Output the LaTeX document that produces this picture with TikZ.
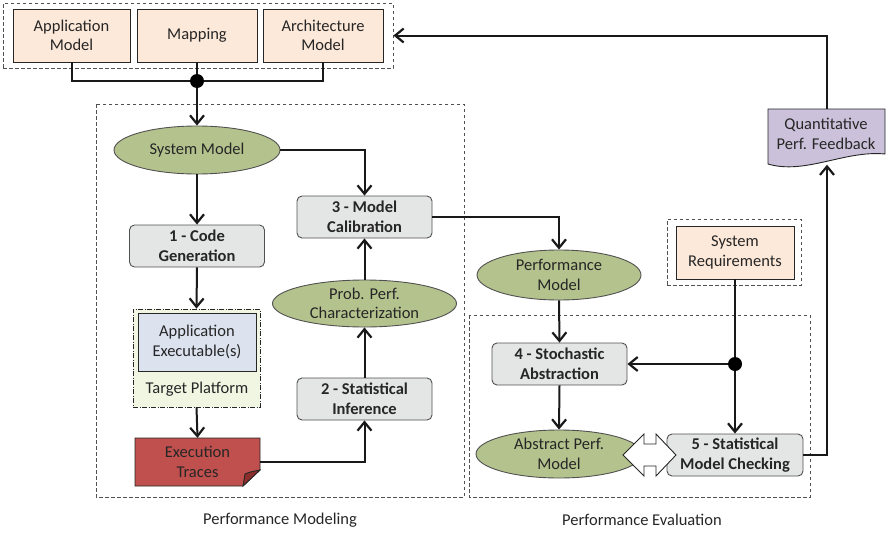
\documentclass[tikz,border=0pt]{standalone}
\usepackage{fontspec}
\setmainfont{Carlito}
\usetikzlibrary{arrows.meta,shapes.geometric,calc}

\definecolor{peach}{HTML}{FDE9D9}
\definecolor{olivefill}{HTML}{B4C38D}
\definecolor{stepgray}{HTML}{E4E5E5}
\definecolor{tracered}{HTML}{C0504D}
\definecolor{folddark}{HTML}{8C2E2C}
\definecolor{feedlav}{HTML}{CCC1DA}
\definecolor{platgreen}{HTML}{F1F6E3}
\definecolor{exeblue}{HTML}{DCE3EF}
\definecolor{inkgray}{HTML}{262626}

\tikzset{
  every node/.style={font=\fontsize{16.5}{19.5}\selectfont, text=inkgray},
  inbox/.style={draw=inkgray, line width=0.9pt, fill=peach, align=center, inner sep=0pt},
  stepbox/.style={draw=inkgray!80, line width=0.9pt, fill=stepgray, rounded corners=5pt,
    align=center, inner sep=0pt, minimum width=135, minimum height=42,
    font=\fontsize{16.5}{19.5}\selectfont\bfseries},
  modelell/.style={ellipse, draw=inkgray!80, line width=0.9pt, fill=olivefill,
    align=center, inner sep=0pt},
  groupbox/.style={draw=inkgray!80, line width=0.9pt, dash pattern=on 3.5pt off 2.5pt,
    inner sep=0pt},
  wire/.style={line width=2pt, draw=black!90},
  flow/.style={wire, -{Straight Barb[length=8.5pt,width=14pt,line width=2.2pt]}},
  joint/.style={circle, fill=black, inner sep=0pt, minimum size=14},
  caption/.style={font=\fontsize{16.5}{19.5}\selectfont}
}

\begin{document}
\begin{tikzpicture}[x=1pt, y=-1pt]
\useasboundingbox (0,0) rectangle (886,533);

% ---- section frames
\draw[groupbox] (96,104) rectangle (464,497);
\draw[groupbox] (469,315) rectangle (810,497);
\node[caption] (modlabel) at (280,520) {Performance Modeling};
\node[caption] (evallabel) at (642,520) {Performance Evaluation};

% ---- input models
\node[groupbox, minimum width=390, minimum height=65] (inputs) at (198,35.5) {};
\node[inbox, minimum width=117, minimum height=53] (app) at (71.5,35.5) {Application\\Model};
\node[inbox, minimum width=120, minimum height=53] (map) at (197,35.5) {Mapping};
\node[inbox, minimum width=120, minimum height=53] (arch) at (323,35.5) {Architecture\\Model};
\node[joint] (join) at (197,81) {};
\draw[wire] (app.south) |- (join);
\draw[wire] (arch.south) |- (join);
\draw[wire] (map.south) -- (join);

% ---- modeling flow
\node[modelell, minimum width=166, minimum height=48] (sysmodel) at (197,150) {System Model};
\draw[flow] (join) -- (sysmodel.north);

\node[stepbox] (codegen) at (197,246) {1 - Code\\Generation};
\draw[flow] (sysmodel.south) -- (codegen.north);

\node[draw=inkgray, line width=0.8pt, dash pattern=on 5pt off 1.5pt on 1pt off 1.5pt,
      fill=platgreen, minimum width=127, minimum height=98, inner sep=0pt] (platform) at (196.5,358) {};
\node[inbox, fill=exeblue, minimum width=118, minimum height=58] (exe) at (197,342) {Application\\Executable(s)};
\node (platlabel) at (197,389) {Target Platform};
\draw[flow] (codegen.south) -- (platform.north);

\node[minimum width=125, minimum height=48, inner sep=0pt, align=center] (traces) at (197.5,462) {};
\fill[tracered, draw=inkgray, line width=0.9pt]
  (135,438) -- (260,438) -- (260,470) -- (243,486) -- (135,486) -- cycle;
\fill[folddark, draw=inkgray, line width=0.9pt]
  (260,470) -- (243,486) -- (245,474) .. controls (250,472) .. (260,470) -- cycle;
\node[align=center] (tracetext) at (197.5,462) {Execution\\Traces};
\draw[flow] (platform.south) -- (traces.north);

\node[stepbox] (stats) at (364.5,399) {2 - Statistical\\Inference};
\draw[flow] (traces.east) -| (stats.south);

\node[modelell, minimum width=184, minimum height=47] (prob) at (364.5,303.5) {Prob. Perf.\\Characterization};
\draw[flow] (stats.north) -- (prob.south);

\node[stepbox] (calib) at (364.5,217) {3 - Model\\Calibration};
\draw[flow] (prob.north) -- (calib.south);
\draw[flow] (sysmodel.east) -| (calib.north);

% ---- evaluation flow
\node[modelell, minimum width=164, minimum height=50] (perfmodel) at (559,275) {Performance\\Model};
\draw[flow] (calib.east) -| (perfmodel.north);

\node[stepbox] (abstraction) at (559.5,364) {4 - Stochastic\\Abstraction};
\draw[flow] (perfmodel.south) -- (abstraction.north);

\node[groupbox, minimum width=134, minimum height=66] (reqframe) at (734,252) {};
\node[inbox, minimum width=118, minimum height=53] (sysreq) at (735,252.5) {System\\Requirements};

\node[stepbox, minimum width=136] (smc) at (735,455) {5 - Statistical\\Model Checking};
\node[joint] (split) at (735,364) {};
\draw[wire] (sysreq.south) -- (split);
\draw[flow] (split) -- (abstraction.east);
\draw[flow] (split) -- (smc.north);

\node[modelell, minimum width=166, minimum height=48] (absmodel) at (559,454) {Abstract Perf.\\Model};
\draw[flow] (abstraction.south) -- (absmodel.north);

% two-way exchange between abstract model and checker
\filldraw[fill=white, draw=inkgray, line width=0.9pt]
  (623,455) -- (644,434) -- (644,444) -- (656,444) -- (656,434) -- (676,455)
  -- (656,476) -- (656,466) -- (644,466) -- (644,476) -- cycle;

% ---- feedback document
\node[minimum width=117, minimum height=55, inner sep=0pt] (feedback) at (827,137) {};
\filldraw[fill=feedlav, draw=inkgray, line width=0.9pt]
  (768,109) -- (885,109) -- (885,154)
  .. controls (845,150) and (805,175) .. (768,164) -- cycle;
\node[align=center] (feedtext) at (826,134) {Quantitative\\Perf. Feedback};
\draw[flow] (smc.east) -| (feedback.south);
\draw[flow] (feedback.north) |- (inputs.east);

\end{tikzpicture}
\end{document}
